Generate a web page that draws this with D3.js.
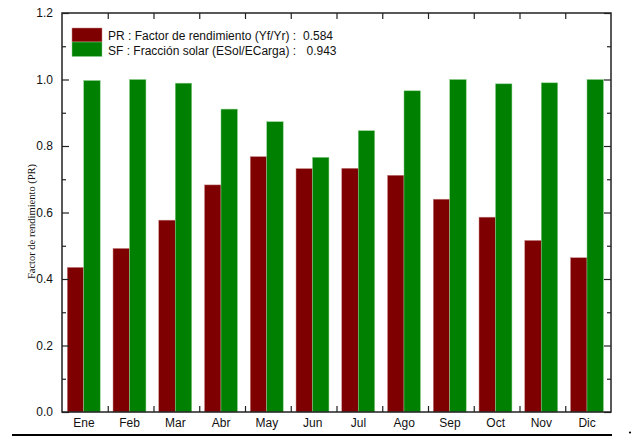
<!DOCTYPE html>
<html>
<head>
<meta charset="utf-8">
<script src="https://cdn.jsdelivr.net/npm/d3@7"></script>
<style>
  html, body { margin: 0; padding: 0; background: #fff; }
  svg { display: block; }
  text { fill: #111; }
</style>
</head>
<body>
<svg id="chart" width="634" height="437"></svg>
<script>
// Monthly performance ratio (PR) and solar fraction (SF)
const months = ["Ene", "Feb", "Mar", "Abr", "May", "Jun", "Jul", "Ago", "Sep", "Oct", "Nov", "Dic"];
const prValues = [0.435, 0.492, 0.577, 0.683, 0.768, 0.732, 0.733, 0.712, 0.640, 0.586, 0.516, 0.464];
const sfValues = [0.997, 1.000, 0.989, 0.911, 0.873, 0.766, 0.846, 0.966, 1.000, 0.987, 0.990, 1.000];
const yTicks = [0.0, 0.2, 0.4, 0.6, 0.8, 1.0, 1.2];
const legendItems = [
  { label: "PR : Factor de rendimiento (Yf/Yr) :", value: "0.584" },
  { label: "SF : Fracción solar (ESol/ECarga) :", value: "0.943" }
];

const colPR = "#7f0000";
const colSF = "#008000";
const sans = "'Liberation Sans', Arial, sans-serif";
const serif = "'Liberation Serif', 'Times New Roman', serif";

const svg = d3.select("#chart");
const plotL = 62, plotR = 611, plotT = 13, plotB = 412;

const x = d3.scaleBand().domain(months).range([plotL, plotR]).paddingInner(0).paddingOuter(0);
const y = d3.scaleLinear().domain([0, 1.2]).range([plotB, plotT]);

const bw = x.bandwidth();
const inner = d3.scaleBand().domain(["PR", "SF"]).range([bw * 0.115, bw * 0.835]).padding(0);

// bars
const g = svg.append("g");
months.forEach((m, i) => {
  g.append("rect")
    .attr("x", x(m) + inner("PR"))
    .attr("y", y(prValues[i]))
    .attr("width", inner.bandwidth())
    .attr("height", y(0) - y(prValues[i]))
    .attr("fill", colPR)
    .attr("stroke", "#c88a8a").attr("stroke-width", 0.5);
  g.append("rect")
    .attr("x", x(m) + inner("SF"))
    .attr("y", y(sfValues[i]))
    .attr("width", inner.bandwidth())
    .attr("height", y(0) - y(sfValues[i]))
    .attr("fill", colSF)
    .attr("stroke", "#8fd08f").attr("stroke-width", 0.5);
});

// axes: left/right with major & minor ticks pointing inward
const minor = d3.range(0.1, 1.2, 0.2);
const axisStyle = sel => {
  sel.select(".domain").remove();
  sel.selectAll("line").attr("stroke", "#222").attr("stroke-width", 1.2);
};

const leftAxis = d3.axisLeft(y).tickValues(yTicks).tickFormat(d3.format(".1f")).tickSizeInner(-7).tickSizeOuter(0).tickPadding(9);
svg.append("g").attr("transform", `translate(${plotL},0)`).call(leftAxis).call(axisStyle)
  .call(s => s.selectAll("text").attr("font-size", 12).style("font-family", sans));
svg.append("g").attr("transform", `translate(${plotL},0)`)
  .call(d3.axisLeft(y).tickValues(minor).tickFormat("").tickSizeInner(-4).tickSizeOuter(0)).call(axisStyle);

svg.append("g").attr("transform", `translate(${plotR},0)`)
  .call(d3.axisRight(y).tickValues(yTicks).tickFormat("").tickSizeInner(-7).tickSizeOuter(0)).call(axisStyle);
svg.append("g").attr("transform", `translate(${plotR},0)`)
  .call(d3.axisRight(y).tickValues(minor).tickFormat("").tickSizeInner(-4).tickSizeOuter(0)).call(axisStyle);

// category boundary ticks on top and bottom
const bounds = months.slice(1).map(m => x(m));
const xb = d3.scaleIdentity().domain([plotL, plotR]);
svg.append("g").attr("transform", `translate(0,${plotT})`)
  .call(d3.axisBottom(xb).tickValues(bounds).tickFormat("").tickSizeInner(6).tickSizeOuter(0)).call(axisStyle);
svg.append("g").attr("transform", `translate(0,${plotB})`)
  .call(d3.axisTop(xb).tickValues(bounds).tickFormat("").tickSizeInner(6).tickSizeOuter(0)).call(axisStyle);

// month labels
svg.append("g").attr("transform", `translate(0,${plotB})`)
  .call(d3.axisBottom(x).tickSize(0).tickPadding(6))
  .call(s => s.select(".domain").remove())
  .call(s => s.selectAll("text").attr("font-size", 12).style("font-family", sans).attr("dx", -1));

// frame
svg.append("rect")
  .attr("x", plotL).attr("y", plotT)
  .attr("width", plotR - plotL).attr("height", plotB - plotT)
  .attr("fill", "none").attr("stroke", "#222").attr("stroke-width", 1.5);

// y-axis title
svg.append("text")
  .attr("transform", `translate(35,${(plotT + plotB) / 2 + 9}) rotate(-90)`)
  .attr("text-anchor", "middle")
  .style("font-family", serif)
  .attr("font-size", 10.5)
  .text("Factor de rendimiento (PR)");

// legend
const lg = svg.append("g").style("font-family", sans);
lg.append("rect").attr("x", 72).attr("y", 28).attr("width", 30).attr("height", 14).attr("fill", colPR)
  .attr("stroke", "#c88a8a").attr("stroke-width", 0.5);
lg.append("rect").attr("x", 72).attr("y", 42).attr("width", 30).attr("height", 14.5).attr("fill", colSF)
  .attr("stroke", "#8fd08f").attr("stroke-width", 0.5);
const valueX = [303, 306.5];
legendItems.forEach((d, i) => {
  lg.append("text").attr("x", 108).attr("y", 40 + i * 14.5).attr("font-size", 12).text(d.label);
  lg.append("text").attr("x", valueX[i]).attr("y", 40 + i * 14.5).attr("font-size", 12).text(d.value);
});

// page rule below the chart
svg.append("line").attr("x1", 12).attr("x2", 612).attr("y1", 435).attr("y2", 435)
  .attr("stroke", "#000").attr("stroke-width", 2);
svg.append("circle").attr("cx", 630).attr("cy", 432.5).attr("r", 1.1).attr("fill", "#000");
</script>
</body>
</html>
